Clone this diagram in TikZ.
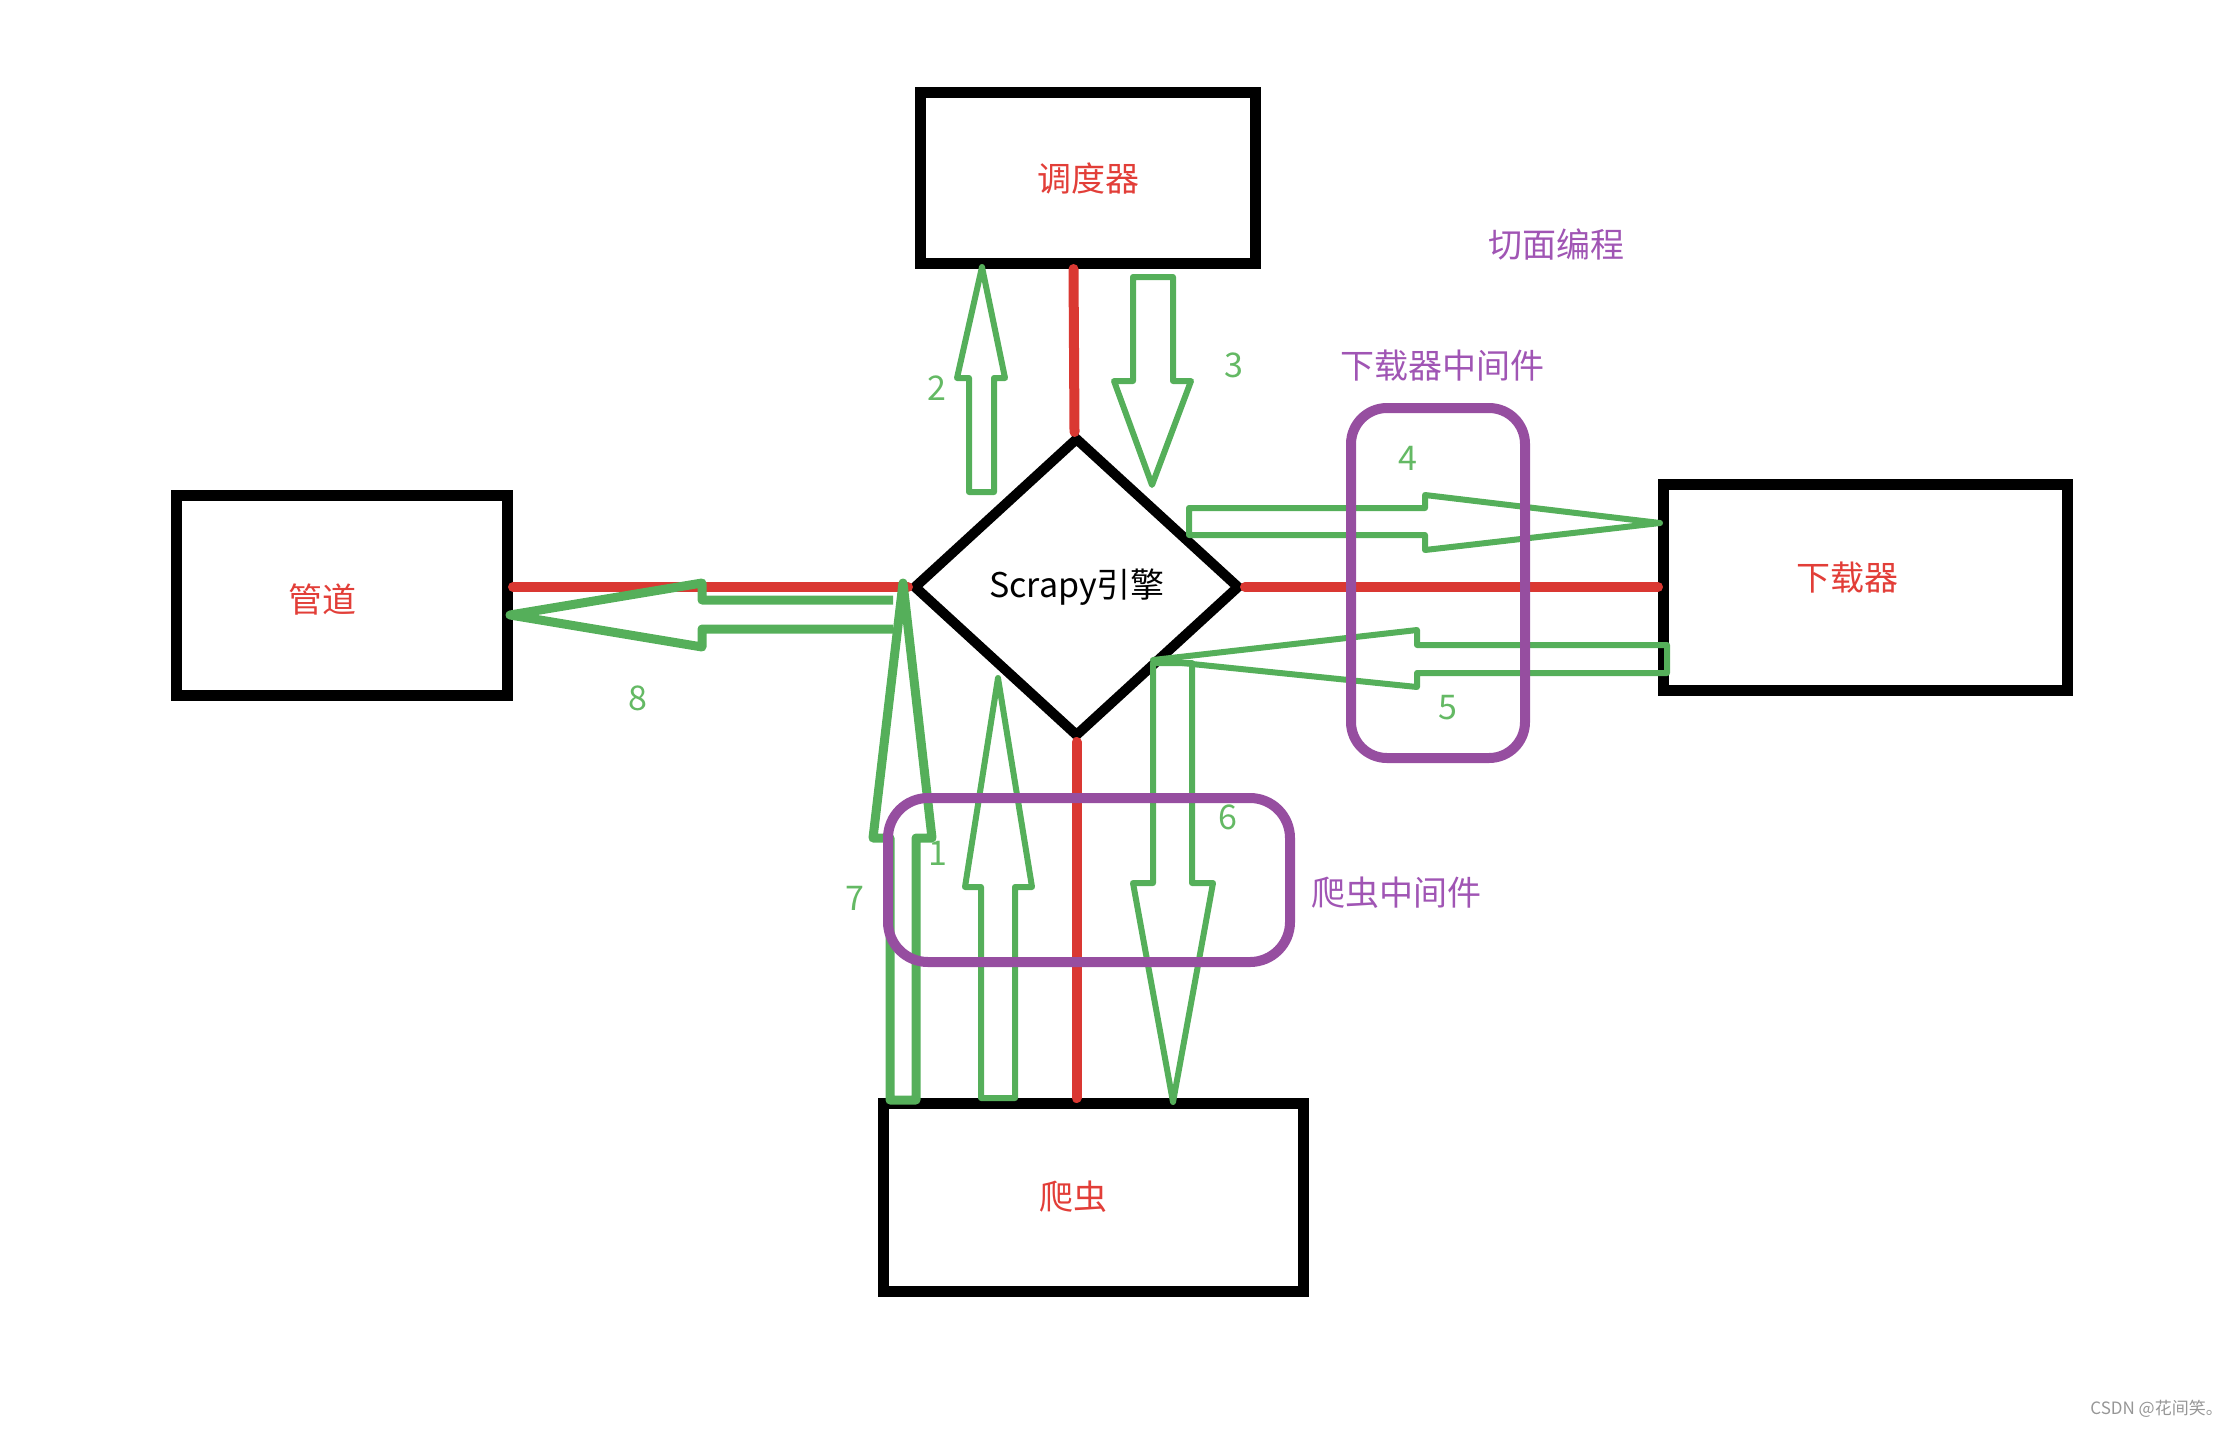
\documentclass[tikz,border=0pt]{standalone}
\usepackage{fontspec}
\newfontfamily\cjk{Noto Sans CJK SC}
\usetikzlibrary{shapes.geometric}
\definecolor{lred}{RGB}{218,56,50}
\definecolor{tred}{RGB}{226,62,56}
\definecolor{lgreen}{RGB}{85,175,90}
\definecolor{tgreen}{RGB}{100,185,100}
\definecolor{lpurple}{RGB}{150,78,160}
\definecolor{tpurple}{RGB}{160,85,180}
\definecolor{wmgray}{RGB}{150,150,150}
\begin{document}
\begin{tikzpicture}[x=1pt,y=-1pt,
  box/.style={draw=black,line width=11pt,rectangle,inner sep=0pt},
  eng/.style={draw=black,line width=10pt,diamond,inner sep=0pt,line join=miter},
  redline/.style={draw=lred,line width=10pt,line cap=round},
  garrow/.style={draw=lgreen,line width=6pt,line join=round},
  gthick/.style={draw=lgreen,line width=9pt,line join=round},
  mw/.style={draw=lpurple,line width=10pt},
  lbl/.style={font=\cjk\fontsize{34}{40}\selectfont,inner sep=0pt},
  redtext/.style={lbl,text=tred},
  purtext/.style={lbl,text=tpurple},
  numtext/.style={lbl,text=tgreen}]
\useasboundingbox (0,0) rectangle (2234,1428);
% boxes
\node[box,minimum width=335pt,minimum height=171pt] (sched) at (1088,178) {};
\node[box,minimum width=331pt,minimum height=200pt] (pipe) at (342,595.5) {};
\node[box,minimum width=404pt,minimum height=206pt] (down) at (1865.5,587.5) {};
\node[box,minimum width=420pt,minimum height=188pt] (spider) at (1093.5,1197.5) {};
\node[eng,minimum width=327pt,minimum height=300pt] (engine) at (1076.5,587) {};
% red connectors
\draw[redline] ([xshift=-3pt]engine.north |- sched.south) -- ([xshift=-2pt]engine.north);
\draw[redline] (engine.west) -- (engine.west -| pipe.east);
\draw[redline] (engine.east) -- (engine.east -| down.west);
\draw[redline] (engine.south) -- (engine.south |- spider.north);
% green block arrows
\draw[garrow] (969,492) -- (969,378) -- (957,378) -- (982,267) -- (1005,378) -- (994,378) -- (994,492) -- cycle; % 2
\draw[garrow] (1133,277) -- (1173,277) -- (1173,381) -- (1191,381) -- (1152,485) -- (1114,381) -- (1133,381) -- cycle; % 3
\draw[garrow] (1189,508) -- (1425,508) -- (1425,495) -- (1660,523) -- (1425,550) -- (1425,535) -- (1189,535) -- cycle; % 4
\draw[garrow] (1667,645) -- (1417,645) -- (1417,630) -- (1153,660) -- (1417,687) -- (1417,673) -- (1667,673) -- cycle; % 5
\draw[garrow] (1153,663) -- (1192,663) -- (1192,883) -- (1213,883) -- (1173,1102) -- (1133,883) -- (1153,883) -- cycle; % 6
\draw[garrow] (981,1098) -- (981,887) -- (965,887) -- (998,678) -- (1032,887) -- (1015,887) -- (1015,1098) -- cycle; % 1
\draw[gthick] (890,1100) -- (890,838) -- (873,838) -- (903,583) -- (932,838) -- (916,838) -- (916,1100) -- cycle; % 7
\draw[gthick] (893,600) -- (702,600) -- (702,583) -- (510,615) -- (702,647) -- (702,629) -- (893,629); % 8
% purple middleware outlines
\draw[mw,rounded corners=36pt] (1351,408) rectangle (1525,758);
\draw[mw,rounded corners=40pt] (888,798) rectangle (1290,962);
% texts
\node[redtext] (tsched) at (1088,178) {调度器};
\node[redtext] (tpipe) at (322,600) {管道};
\node[redtext] (tdown) at (1847,578) {下载器};
\node[redtext] (tspider) at (1073,1197) {爬虫};
\node[lbl,text=black] (teng) at (1077,587) {Scrapy引擎};
\node[purtext] (taop) at (1556,244) {切面编程};
\node[purtext] (tdmw) at (1442,366) {下载器中间件};
\node[purtext] (tsmw) at (1396,893) {爬虫中间件};
\node[numtext] (n2) at (937,388) {2};
\node[numtext] (n3) at (1234,365) {3};
\node[numtext] (n4) at (1408,458) {4};
\node[numtext] (n5) at (1448,708) {5};
\node[numtext] (n6) at (1228,817) {6};
\node[numtext] (n1) at (938,853) {1};
\node[numtext] (n7) at (855,898) {7};
\node[numtext] (n8) at (638,698) {8};
\node[font=\cjk\fontsize{17}{20}\selectfont,text=wmgray,anchor=east,inner sep=0pt] (wm) at (2223,1409) {CSDN @花间笑。};
\end{tikzpicture}
\end{document}
